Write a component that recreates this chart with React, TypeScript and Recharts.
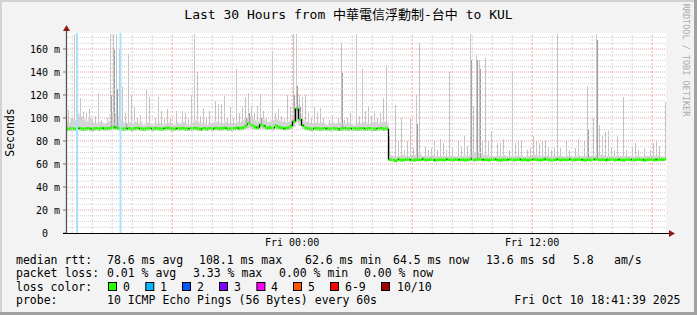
import React from 'react';
import { ComposedChart, Area, Bar, Line, XAxis, YAxis, CartesianGrid, ReferenceLine } from 'recharts';

// ---- time base ----
const STEP_MINUTES = 9; // one sample column = 3px
const START_MINUTE_OF_DAY = 12 * 60 + 41 + 39 / 60; // Thu 12:41:39
const SPAN_MINUTES = 1800; // 30 hours
const Y_MAX = 173.9;

// ---- median rtt (ms) ----
const medianBefore = [
  90.6, 90.4, 90.8, 90.5, 91.0, 90.7, 90.3, 90.9, 90.6, 90.4,
  90.8, 90.5, 91.1, 90.6, 90.9, 91.3, 92.0, 91.4, 90.8, 90.5,
  90.7, 90.9, 90.4, 90.8, 91.0, 90.6, 90.3, 90.7, 91.1, 90.5,
  90.8, 90.6, 90.4, 90.9, 91.2, 90.7, 90.5, 90.8, 90.6, 91.0,
  90.4, 90.7, 90.9, 91.1, 90.6, 90.3, 90.8, 90.5, 90.9, 90.7,
  91.0, 90.6, 90.8, 91.2, 90.5, 90.7, 90.9, 91.3, 90.8, 91.5,
  93.0, 95.5, 94.0, 92.2, 91.6, 94.5, 93.0, 91.2, 91.8, 91.0,
  93.2, 92.0, 91.3, 90.8, 91.2, 93.0, 97.0, 108.1, 99.0, 93.5,
  91.4, 90.7, 90.5, 90.8, 90.6, 90.4, 90.9, 90.7, 90.5, 90.8,
  90.6, 90.3, 90.7, 90.9, 90.5, 90.8, 90.6, 90.4, 90.7, 90.9,
  90.5, 90.8, 90.6, 90.3, 90.7, 90.9, 90.5, 90.6,
];
const medianAfter = [
  64.0, 63.6, 62.8, 64.2, 63.5, 63.9, 64.1, 63.7, 63.4, 64.0,
  63.8, 64.3, 63.6, 63.9, 64.2, 63.5, 63.8, 64.0, 63.7, 64.1,
  63.9, 63.6, 64.2, 63.8, 64.0, 63.5, 63.9, 64.3, 63.7, 64.1,
  64.4, 63.8, 64.0, 63.6, 63.9, 64.2, 63.7, 63.5, 64.0, 63.8,
  64.1, 63.6, 63.9, 64.2, 63.7, 64.0, 63.5, 63.8, 64.1, 63.9,
  63.6, 64.0, 64.3, 63.8, 63.5, 63.9, 64.2, 63.7, 64.0, 63.8,
  64.1, 63.6, 63.9, 64.2, 63.8, 63.5, 64.0, 63.7, 64.1, 64.4,
  63.8, 64.0, 63.6, 63.9, 64.2, 63.7, 64.0, 63.8, 63.5, 64.1,
  63.9, 63.6, 64.0, 64.2, 63.8, 63.5, 63.9, 64.1, 63.7, 64.0,
  64.2, 63.9, 64.5,
];

// ---- dense smoke band (ms): fastest and upper-typical ping per column ----
const smokeLowBefore = [
  88.9, 88.7, 89.0, 88.8, 89.1, 88.9, 88.6, 89.0, 88.8, 88.7,
  89.0, 88.8, 89.2, 88.9, 89.0, 89.3, 89.5, 89.2, 88.9, 88.7,
  88.9, 89.0, 88.7, 88.9, 89.1, 88.8, 88.6, 88.9, 89.2, 88.8,
  89.0, 88.8, 88.7, 89.0, 89.2, 88.9, 88.8, 89.0, 88.8, 89.1,
  88.7, 88.9, 89.0, 89.2, 88.8, 88.6, 89.0, 88.8, 89.1, 88.9,
  89.1, 88.8, 89.0, 89.3, 88.8, 88.9, 89.0, 89.3, 89.0, 89.4,
  90.0, 91.0, 90.5, 89.8, 89.5, 90.6, 90.2, 89.3, 89.6, 89.2,
  90.2, 89.8, 89.4, 89.0, 89.3, 90.0, 92.0, 96.0, 93.0, 90.5,
  89.4, 88.9, 88.7, 89.0, 88.8, 88.7, 89.0, 88.9, 88.7, 89.0,
  88.8, 88.6, 88.9, 89.0, 88.7, 89.0, 88.8, 88.6, 88.9, 89.0,
  88.7, 89.0, 88.8, 88.6, 88.9, 89.0, 88.7, 88.8,
];
const smokeLowAfter = [
  62.5, 62.2, 61.8, 62.4, 62.0, 62.3, 62.5, 62.1, 61.9, 62.4,
  62.2, 62.6, 62.0, 62.3, 62.5, 61.9, 62.2, 62.4, 62.1, 62.5,
  62.3, 62.0, 62.6, 62.2, 62.4, 61.9, 62.3, 62.6, 62.1, 62.5,
  62.7, 62.2, 62.4, 62.0, 62.3, 62.5, 62.1, 61.9, 62.4, 62.2,
  62.5, 62.0, 62.3, 62.6, 62.1, 62.4, 61.9, 62.2, 62.5, 62.3,
  62.0, 62.4, 62.6, 62.2, 61.9, 62.3, 62.5, 62.1, 62.4, 62.2,
  62.5, 62.0, 62.3, 62.6, 62.2, 61.9, 62.4, 62.1, 62.5, 62.7,
  62.2, 62.4, 62.0, 62.3, 62.5, 62.1, 62.4, 62.2, 61.9, 62.5,
  62.3, 62.0, 62.4, 62.6, 62.2, 61.9, 62.3, 62.5, 62.1, 62.4,
  62.5, 62.3, 62.8,
];
const smokeHighBefore = [
  97, 96, 100, 98, 104, 101, 99, 97, 100, 96,
  95, 97, 96, 95, 97, 104, 106, 103, 98, 96,
  95, 96, 95, 97, 95, 96, 94, 96, 95, 94,
  95, 96, 94, 95, 96, 95, 94, 96, 95, 97,
  95, 94, 96, 98, 97, 95, 96, 94, 95, 96,
  97, 96, 95, 97, 95, 96, 95, 97, 96, 98,
  100, 102, 101, 98, 97, 100, 99, 96, 97, 98,
  99, 98, 97, 96, 97, 99, 104, 112, 104, 99,
  97, 96, 95, 96, 95, 96, 95, 94, 95, 96,
  95, 96, 97, 95, 96, 95, 94, 96, 95, 97,
  96, 95, 96, 97, 95, 96, 97, 96,
];
const smokeHighAfter = [
  68, 67, 66.5, 67, 68, 67, 66.5, 67, 67.5, 68,
  69, 67, 66.5, 67, 67.5, 67, 66.5, 67, 67, 66.5,
  67, 67, 66.5, 67, 67, 67.5, 67, 69, 70, 71,
  70, 68, 68, 67, 67, 66.5, 67, 67, 67.5, 67,
  66.5, 67, 67, 67, 67, 66.5, 67, 67, 68, 67.5,
  67, 67.5, 67, 67, 66.5, 67, 67.5, 67, 66.5, 67,
  67, 66.5, 67, 67.5, 67, 67, 68, 67, 67, 69,
  68, 67.5, 67, 67, 66.5, 67, 67.5, 67, 67, 66.5,
  67, 66.5, 67, 67, 66.5, 67, 67, 66.5, 67, 67.5,
  67, 66.5, 68,
];

// ---- slowest ping spikes: [sample column, ms] ----
const spikePeaks: [number, number][] = [
  [1, 107], [3, 173], [4, 173], [5, 117], [6, 105], [7, 104], [8, 108], [9, 99], [10, 102], [11, 122],
  [12, 98], [14, 100], [15, 173], [16, 173], [17, 173], [18, 160], [19, 127], [20, 104], [21, 156], [22, 120],
  [23, 110], [24, 100], [25, 103], [27, 124], [28, 118], [30, 100], [31, 118], [32, 106], [33, 99], [34, 108],
  [35, 100], [37, 106], [39, 106], [40, 104], [41, 99], [42, 120], [43, 173], [44, 140], [45, 102], [46, 109],
  [47, 100], [48, 106], [50, 115], [51, 112], [52, 112], [53, 119], [54, 100], [55, 110], [56, 100], [57, 143],
  [58, 104], [59, 110], [60, 118], [61, 122], [62, 110], [63, 104], [64, 110], [65, 121], [66, 106], [67, 100],
  [69, 158], [70, 104], [71, 108], [72, 102], [73, 100], [74, 120], [75, 110], [76, 173], [77, 173], [78, 120],
  [79, 118], [80, 120], [81, 104], [82, 100], [83, 110], [84, 104], [85, 109], [86, 100], [88, 98], [89, 103],
  [91, 100], [92, 165], [93, 98], [94, 100], [95, 104], [97, 173], [98, 102], [99, 143], [100, 106], [101, 110],
  [102, 102], [103, 106], [104, 100], [105, 104], [106, 117], [107, 146],
  [108, 84], [110, 111], [111, 80], [112, 100], [113, 72], [114, 80], [115, 100], [116, 74], [117, 120], [118, 165],
  [120, 75], [121, 72], [122, 74], [123, 80], [124, 72], [125, 82], [126, 78], [127, 72], [128, 140], [129, 74],
  [131, 80], [132, 75], [133, 84], [134, 76], [135, 173], [136, 110], [137, 156], [138, 150], [139, 80], [140, 152],
  [141, 80], [142, 89], [144, 78], [145, 78], [146, 82], [148, 72], [149, 140], [150, 78], [151, 80], [152, 80],
  [154, 72], [155, 74], [156, 84], [157, 80], [158, 78], [159, 80], [160, 80], [161, 74], [162, 72], [163, 74],
  [164, 173], [165, 74], [167, 80], [168, 72], [170, 74], [171, 82], [173, 80], [174, 128], [176, 100], [177, 173],
  [178, 94], [179, 84], [180, 88], [181, 89], [182, 74], [183, 72], [184, 84], [186, 118], [187, 72], [189, 76],
  [190, 78], [191, 72], [193, 74], [195, 72], [196, 78], [197, 80], [198, 76], [200, 114],
];
// denser (darker) smoke cores: [sample column, ms]
const darkPeaks: [number, number][] = [
  [15, 120], [16, 159], [17, 125], [20, 96], [60, 100], [61, 104], [65, 100], [76, 120], [77, 128], [78, 110],
  [92, 139], [117, 95], [135, 150], [137, 150], [138, 143], [174, 90], [177, 168],
];

// ---- packet loss events (minutes from start, 1 of 10 lost) ----
const lossEvents = [33, 163.5];

// ---- axes ----
const yTicks = [0, 20, 40, 60, 80, 100, 120, 140, 160];
const xTickMinutes = [678.35, 1398.35];
const xTickLabels = ['Fri 00:00', 'Fri 12:00'];

// ---- legend ----
const lossColors = ['#26ff00', '#00b8ff', '#0059ff', '#7e00ff', '#ff00ff', '#ff5500', '#ff0000', '#a10000'];
const lossLabels = ['0', '1', '2', '3', '4', '5', '6-9', '10/10'];

// ---- table built from the arrays ----
const medianMs = [...medianBefore, ...medianAfter];
const smokeLow = [...smokeLowBefore, ...smokeLowAfter];
const smokeHigh = [...smokeHighBefore, ...smokeHighAfter];
type Row = { t: number; median: number; lo: number; hi: number; spike: number | null; dark: number | null };
const rows: Row[] = medianMs.map((m, i) => ({ t: i * STEP_MINUTES, median: m, lo: smokeLow[i], hi: smokeHigh[i], spike: null, dark: null }));
spikePeaks.forEach(([i, v]) => { if (rows[i]) rows[i].spike = Math.max(rows[i].spike ?? 0, v); });
darkPeaks.forEach(([i, v]) => { if (rows[i]) rows[i].dark = v; });

// vertical connectors of the median step line where it jumps more than the band width
const MEDIAN_HALF_BAND = 1.3;
const medianJumps: { t: number; a: number; b: number }[] = [];
for (let i = 0; i + 1 < rows.length; i++) {
  if (Math.abs(rows[i + 1].median - rows[i].median) > 2 * MEDIAN_HALF_BAND) {
    medianJumps.push({ t: (rows[i].t + rows[i + 1].t) / 2, a: rows[i].median, b: rows[i + 1].median });
  }
}

// grid values
const yMinor: number[] = [];
for (let v = 5; v < Y_MAX; v += 5) if (v % 20 !== 0) yMinor.push(v);
const yMajor = yTicks.filter((v) => v > 0);
const hourLines: { m: number; major: boolean }[] = [];
for (let m = 60 - (START_MINUTE_OF_DAY % 60); m < SPAN_MINUTES; m += 60) {
  const hour = Math.round((m + START_MINUTE_OF_DAY) / 60) % 24;
  hourLines.push({ m, major: hour % 6 === 0 });
}

const MONO = "'DejaVu Sans Mono', 'Noto Sans CJK TC', monospace";

function YTick(props: any) {
  const { x, y, payload } = props;
  const v = payload.value;
  return (
    <text x={v === 0 ? x - 12 : x} y={y} dy={3.6} textAnchor="end" fontFamily={MONO} fontSize={10} fill="#000">
      {v === 0 ? '0' : `${v} m`}
    </text>
  );
}

function XTick(props: any) {
  const { x, y, payload } = props;
  const idx = xTickMinutes.indexOf(payload.value);
  return (
    <text x={x} y={y} dy={12.6} textAnchor="middle" fontFamily={MONO} fontSize={10} fill="#000">
      {xTickLabels[idx] ?? ''}
    </text>
  );
}

const crispBar = (fill: string) => (p: any) =>
  p.height > 0 ? <rect x={p.x} y={p.y} width={p.width} height={p.height} fill={fill} shapeRendering="crispEdges" /> : <g />;

export default function App() {
  const legendText = (x: number, y: number, s: string, anchor: 'start' | 'end' = 'start') => (
    <text x={x} y={y} fontFamily={MONO} fontSize={11.5} fill="#000" textAnchor={anchor} style={{ whiteSpace: 'pre' }}>{s}</text>
  );
  const boxXs = [108, 145.3, 182, 219, 256.4, 293, 330, 381];
  const labelXs = [123, 160, 197, 234, 271, 308, 345, 397];
  return (
    <div style={{ position: 'fixed', left: 0, top: 0, width: 697, height: 315, background: '#f3f3f3', overflow: 'hidden' }}>
      <div style={{ position: 'absolute', left: 0, top: 0 }}>
        <ComposedChart width={697} height={250} data={rows} margin={{ top: 33, right: 31, bottom: 0, left: 0 }}>
          <CartesianGrid fill="#ffffff" horizontal={false} vertical={false} stroke="none" />
          {yMinor.map((v) => (
            <ReferenceLine key={'ym' + v} y={v} stroke="#d2d2d2" strokeDasharray="1 1" strokeWidth={1} />
          ))}
          {hourLines.filter((h) => !h.major).map((h) => (
            <ReferenceLine key={'xm' + h.m} x={h.m} stroke="#cfcfcf" strokeDasharray="2 2" strokeWidth={1} />
          ))}
          {yMajor.map((v) => (
            <ReferenceLine key={'yM' + v} y={v} stroke="#eba3a3" strokeDasharray="1 1" strokeWidth={1} />
          ))}
          {hourLines.filter((h) => h.major).map((h) => (
            <ReferenceLine key={'xM' + h.m} x={h.m} stroke="#eba3a3" strokeDasharray="2 2" strokeWidth={1} />
          ))}
          <XAxis dataKey="t" type="number" domain={[0, SPAN_MINUTES]} ticks={xTickMinutes} tick={<XTick />} axisLine={false} tickLine={false} tickSize={0} tickMargin={0} height={17} allowDataOverflow />
          <YAxis type="number" domain={[0, Y_MAX]} ticks={yTicks} tick={<YTick />} axisLine={false} tickLine={{ stroke: '#777' }} tickSize={3} tickMargin={3} width={66} allowDataOverflow />
          <Area type="step" dataKey={(d: Row) => [d.lo, d.hi]} stroke="none" fill="#d4d4d4" fillOpacity={1} isAnimationActive={false} />
          <Bar dataKey={(d: Row) => (d.spike != null && d.spike > d.hi ? [d.hi, d.spike] : null)} barSize={1} fill="#c4c4c4" shape={crispBar('#c4c4c4')} isAnimationActive={false} />
          <Bar dataKey={(d: Row) => (d.dark != null ? [d.median, d.dark] : null)} barSize={1} fill="#9c9c9c" shape={crispBar('#9c9c9c')} isAnimationActive={false} />
          {lossEvents.map((m) => (
            <ReferenceLine key={'loss' + m} x={m} stroke="#a6e3ff" strokeWidth={2} />
          ))}
          {medianJumps.map((j) => (
            <ReferenceLine key={'jump' + j.t} segment={[{ x: j.t, y: j.a }, { x: j.t, y: j.b }]} stroke="#000" strokeWidth={1.3} />
          ))}
          <Area type="step" dataKey={(d: Row) => [d.median - MEDIAN_HALF_BAND, d.median + MEDIAN_HALF_BAND]} stroke="none" fill="#26ff00" fillOpacity={1} isAnimationActive={false} />
          <Line type="step" dataKey="median" stroke="#000" strokeWidth={1} strokeDasharray="1 13" dot={false} isAnimationActive={false} />
        </ComposedChart>
      </div>
      <svg width={697} height={315} style={{ position: 'absolute', left: 0, top: 0, pointerEvents: 'none' }}>
        {/* frame */}
        <rect x={0} y={0} width={697} height={2} fill="#d2d2d2" />
        <rect x={0} y={0} width={2} height={315} fill="#d2d2d2" />
        <rect x={694} y={0} width={3} height={315} fill="#a2a2a2" />
        <rect x={0} y={312} width={697} height={3} fill="#a2a2a2" />
        {/* axes */}
        <line x1={66.5} y1={233} x2={66.5} y2={29} stroke="#555" strokeWidth={1.3} />
        <line x1={63} y1={233.5} x2={670} y2={233.5} stroke="#000" strokeWidth={1} />
        <polygon points="63,31 70,31 66.5,25" fill="#8b1a1a" />
        <polygon points="669,230 669,237 675,233.5" fill="#8b1a1a" />
        {/* title */}
        <text x={348.5} y={19} textAnchor="middle" fontFamily={MONO} fontSize={13} fill="#000">Last 30 Hours from 中華電信浮動制-台中 to KUL</text>
        <text x={13.5} y={132.5} transform="rotate(-90 13.5 132.5)" textAnchor="middle" fontFamily={MONO} fontSize={11.5} fill="#000">Seconds</text>
        <text x={683} y={60} transform="rotate(90 683 60)" textAnchor="middle" fontFamily={MONO} fontSize={8.5} fill="#ababab">RRDTOOL / TOBI OETIKER</text>
        {/* legend */}
        {legendText(16, 263.5, 'median rtt:')}
        {legendText(107, 263.5, '78.6 ms avg')}
        {legendText(199, 263.5, '108.1 ms max')}
        {legendText(305, 263.5, '62.6 ms min')}
        {legendText(393, 263.5, '64.5 ms now')}
        {legendText(486, 263.5, '13.6 ms sd')}
        {legendText(573, 263.5, '5.8')}
        {legendText(614, 263.5, 'am/s')}
        {legendText(16, 277, 'packet loss:')}
        {legendText(107, 277, '0.01 % avg')}
        {legendText(193, 277, '3.33 % max')}
        {legendText(279, 277, '0.00 % min')}
        {legendText(364, 277, '0.00 % now')}
        {legendText(16, 290.7, 'loss color:')}
        {lossColors.map((c, i) => (
          <rect key={c} x={boxXs[i] + 0.5} y={282.5} width={8} height={8} fill={c} stroke="#000" strokeWidth={1} />
        ))}
        {lossLabels.map((l, i) => (
          <React.Fragment key={l}>{legendText(labelXs[i], 290.7, l)}</React.Fragment>
        ))}
        {legendText(16, 304.4, 'probe:')}
        {legendText(107, 304.4, '10 ICMP Echo Pings (56 Bytes) every 60s')}
        {legendText(680.5, 304.4, 'Fri Oct 10 18:41:39 2025', 'end')}
      </svg>
    </div>
  );
}
